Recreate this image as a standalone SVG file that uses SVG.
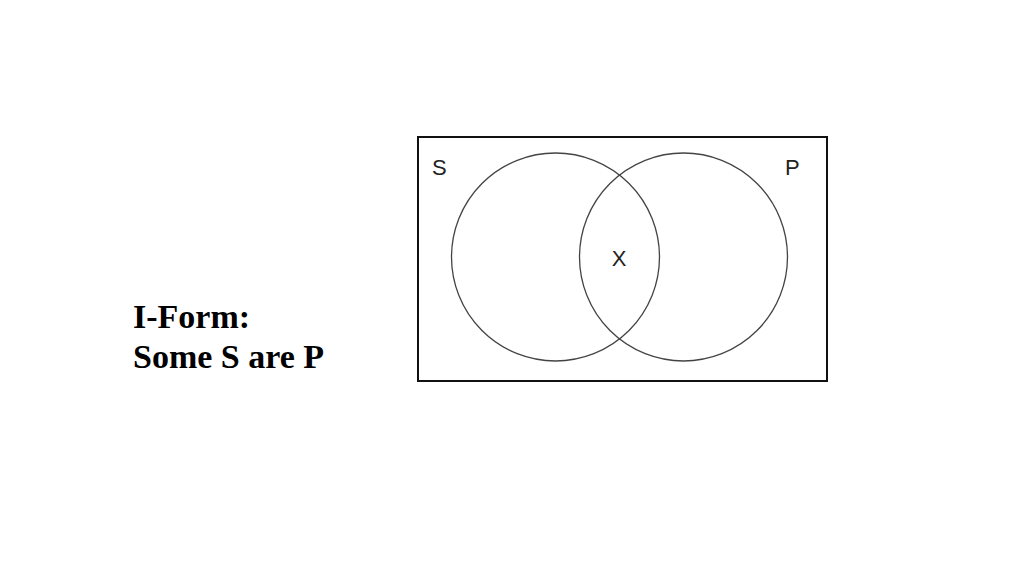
<svg xmlns="http://www.w3.org/2000/svg" width="1024" height="575" viewBox="0 0 1024 575">
<style>
.title{font-family:"Liberation Serif","Times New Roman",serif;font-weight:bold;font-size:34px;fill:#000}
.lbl{font-family:"Liberation Sans",Arial,sans-serif;font-size:22px;fill:#222}
.circ{fill:none;stroke:#444;stroke-width:1.3}
</style>
<rect width="1024" height="575" fill="#fff"/>
<g id="caption">
<text class="title" x="133" y="328">I-Form:</text>
<text class="title" x="133" y="368">Some S are P</text>
</g>
<g id="venn">
<rect x="418" y="137" width="409" height="244" fill="#fff" stroke="#111" stroke-width="2"/>
<circle id="circleS" class="circ" cx="555.5" cy="257" r="104"/>
<circle id="circleP" class="circ" cx="683.5" cy="257" r="104"/>
<text class="lbl" x="432" y="175">S</text>
<text class="lbl" x="785" y="175">P</text>
<text id="mark" class="lbl" x="619" y="266" text-anchor="middle">X</text>
</g>
</svg>
